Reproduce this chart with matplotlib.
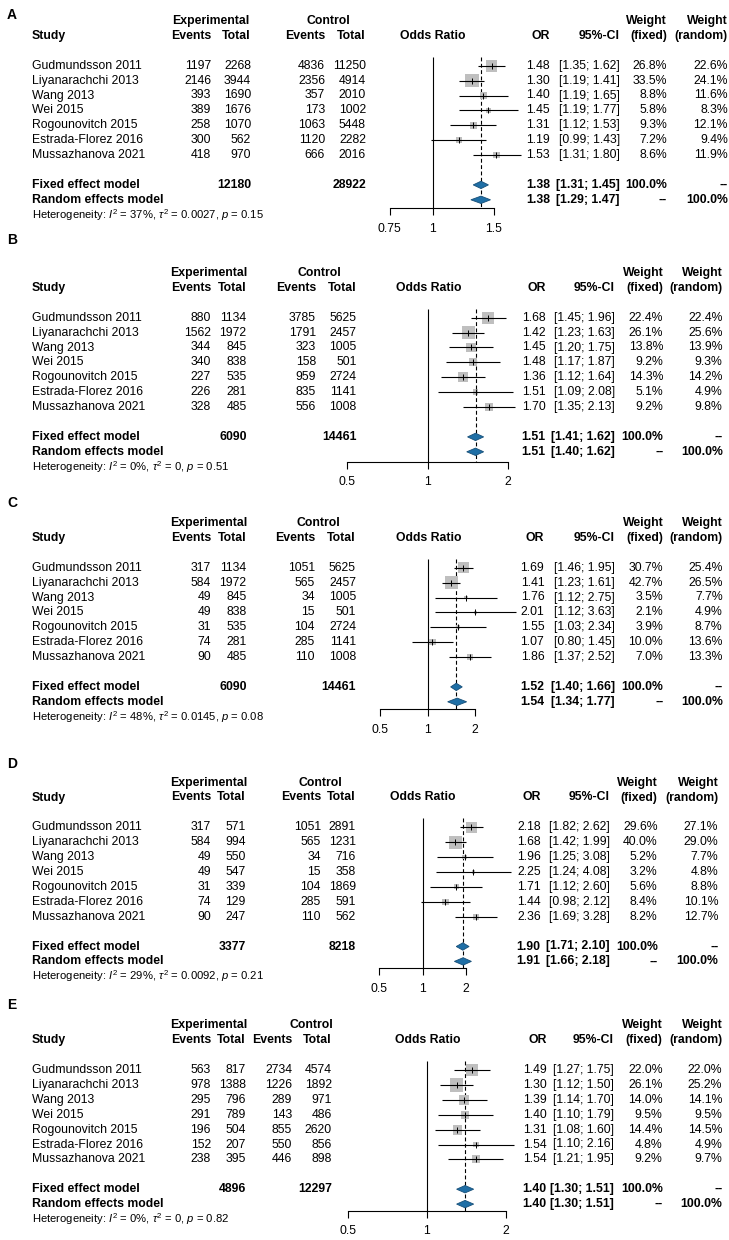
import numpy as np
import matplotlib
matplotlib.use("Agg")
import matplotlib.pyplot as plt
from matplotlib.ticker import NullLocator

plt.rcParams['font.family'] = ['Liberation Sans', 'DejaVu Sans']
plt.rcParams['mathtext.fontset'] = 'custom'
plt.rcParams['mathtext.rm'] = 'Liberation Sans'
plt.rcParams['mathtext.it'] = 'Liberation Sans:italic'
plt.rcParams['mathtext.bf'] = 'Liberation Sans:bold'

studies = ["Gudmundsson 2011", "Liyanarachchi 2013", "Wang 2013", "Wei 2015",
           "Rogounovitch 2015", "Estrada-Florez 2016", "Mussazhanova 2021"]

# Panel A
a_exp_events = [1197, 2146, 393, 389, 258, 300, 418]
a_exp_total = [2268, 3944, 1690, 1676, 1070, 562, 970]
a_ctl_events = [4836, 2356, 357, 173, 1063, 1120, 666]
a_ctl_total = [11250, 4914, 2010, 1002, 5448, 2282, 2016]
a_or = [1.48, 1.30, 1.40, 1.45, 1.31, 1.19, 1.53]
a_lo = [1.35, 1.19, 1.19, 1.19, 1.12, 0.99, 1.31]
a_hi = [1.62, 1.41, 1.65, 1.77, 1.53, 1.43, 1.80]
a_wf = [26.8, 33.5, 8.8, 5.8, 9.3, 7.2, 8.6]
a_wr = [22.6, 24.1, 11.6, 8.3, 12.1, 9.4, 11.9]
a_fixed = [1.38, 1.31, 1.45]
a_random = [1.38, 1.29, 1.47]
a_totals = [12180, 28922]
a_het = ["37%", "0.0027", "0.15"]
a_ticks = [0.75, 1, 1.5]

# Panel B
b_exp_events = [880, 1562, 344, 340, 227, 226, 328]
b_exp_total = [1134, 1972, 845, 838, 535, 281, 485]
b_ctl_events = [3785, 1791, 323, 158, 959, 835, 556]
b_ctl_total = [5625, 2457, 1005, 501, 2724, 1141, 1008]
b_or = [1.68, 1.42, 1.45, 1.48, 1.36, 1.51, 1.70]
b_lo = [1.45, 1.23, 1.20, 1.17, 1.12, 1.09, 1.35]
b_hi = [1.96, 1.63, 1.75, 1.87, 1.64, 2.08, 2.13]
b_wf = [22.4, 26.1, 13.8, 9.2, 14.3, 5.1, 9.2]
b_wr = [22.4, 25.6, 13.9, 9.3, 14.2, 4.9, 9.8]
b_fixed = [1.51, 1.41, 1.62]
b_random = [1.51, 1.40, 1.62]
b_totals = [6090, 14461]
b_het = ["0%", "0", "0.51"]
b_ticks = [0.5, 1, 2]

# Panel C
c_exp_events = [317, 584, 49, 49, 31, 74, 90]
c_exp_total = [1134, 1972, 845, 838, 535, 281, 485]
c_ctl_events = [1051, 565, 34, 15, 104, 285, 110]
c_ctl_total = [5625, 2457, 1005, 501, 2724, 1141, 1008]
c_or = [1.69, 1.41, 1.76, 2.01, 1.55, 1.07, 1.86]
c_lo = [1.46, 1.23, 1.12, 1.12, 1.03, 0.80, 1.37]
c_hi = [1.95, 1.61, 2.75, 3.63, 2.34, 1.45, 2.52]
c_wf = [30.7, 42.7, 3.5, 2.1, 3.9, 10.0, 7.0]
c_wr = [25.4, 26.5, 7.7, 4.9, 8.7, 13.6, 13.3]
c_fixed = [1.52, 1.40, 1.66]
c_random = [1.54, 1.34, 1.77]
c_totals = [6090, 14461]
c_het = ["48%", "0.0145", "0.08"]
c_ticks = [0.5, 1, 2]

# Panel D
d_exp_events = [317, 584, 49, 49, 31, 74, 90]
d_exp_total = [571, 994, 550, 547, 339, 129, 247]
d_ctl_events = [1051, 565, 34, 15, 104, 285, 110]
d_ctl_total = [2891, 1231, 716, 358, 1869, 591, 562]
d_or = [2.18, 1.68, 1.96, 2.25, 1.71, 1.44, 2.36]
d_lo = [1.82, 1.42, 1.25, 1.24, 1.12, 0.98, 1.69]
d_hi = [2.62, 1.99, 3.08, 4.08, 2.60, 2.12, 3.28]
d_wf = [29.6, 40.0, 5.2, 3.2, 5.6, 8.4, 8.2]
d_wr = [27.1, 29.0, 7.7, 4.8, 8.8, 10.1, 12.7]
d_fixed = [1.90, 1.71, 2.10]
d_random = [1.91, 1.66, 2.18]
d_totals = [3377, 8218]
d_het = ["29%", "0.0092", "0.21"]
d_ticks = [0.5, 1, 2]

# Panel E
e_exp_events = [563, 978, 295, 291, 196, 152, 238]
e_exp_total = [817, 1388, 796, 789, 504, 207, 395]
e_ctl_events = [2734, 1226, 289, 143, 855, 550, 446]
e_ctl_total = [4574, 1892, 971, 486, 2620, 856, 898]
e_or = [1.49, 1.30, 1.39, 1.40, 1.31, 1.54, 1.54]
e_lo = [1.27, 1.12, 1.14, 1.10, 1.08, 1.10, 1.21]
e_hi = [1.75, 1.50, 1.70, 1.79, 1.60, 2.16, 1.95]
e_wf = [22.0, 26.1, 14.0, 9.5, 14.4, 4.8, 9.2]
e_wr = [22.0, 25.2, 14.1, 9.5, 14.5, 4.9, 9.7]
e_fixed = [1.40, 1.30, 1.51]
e_random = [1.40, 1.30, 1.51]
e_totals = [4896, 12297]
e_het = ["0%", "0", "0.82"]
e_ticks = [0.5, 1, 2]

def pack(label, ee, et, ce, ct, orr, lo, hi, wf, wr, fx, rn, tot, het, ticks):
    return dict(label=label, ee=ee, et=et, ce=ce, ct=ct, orr=orr, lo=lo, hi=hi,
                wf=wf, wr=wr, fixed=fx, random=rn, totals=tot, het=het, ticks=ticks)

panels = [
    pack("A", a_exp_events, a_exp_total, a_ctl_events, a_ctl_total, a_or, a_lo, a_hi,
         a_wf, a_wr, a_fixed, a_random, a_totals, a_het, a_ticks),
    pack("B", b_exp_events, b_exp_total, b_ctl_events, b_ctl_total, b_or, b_lo, b_hi,
         b_wf, b_wr, b_fixed, b_random, b_totals, b_het, b_ticks),
    pack("C", c_exp_events, c_exp_total, c_ctl_events, c_ctl_total, c_or, c_lo, c_hi,
         c_wf, c_wr, c_fixed, c_random, c_totals, c_het, c_ticks),
    pack("D", d_exp_events, d_exp_total, d_ctl_events, d_ctl_total, d_or, d_lo, d_hi,
         d_wf, d_wr, d_fixed, d_random, d_totals, d_het, d_ticks),
    pack("E", e_exp_events, e_exp_total, e_ctl_events, e_ctl_total, e_or, e_lo, e_hi,
         e_wf, e_wr, e_fixed, e_random, e_totals, e_het, e_ticks),
]

# layout in pixels, one entry per panel
layouts = [
    dict(gud_y=65.7, label_y=15, cols=[211, 251, 325, 366], exp_c=211, ctl_c=328,
         rcols=[550, 620, 667, 728], or_c=432.5, x1=432.7, k=150, axis_row=9.57),
    dict(gud_y=317.7, label_y=240, cols=[211, 246.7, 316, 356.7], exp_c=208.5, ctl_c=319,
         rcols=[545.7, 615, 663.3, 722.7], or_c=428.3, x1=427.7, k=116, axis_row=9.66),
    dict(gud_y=567.7, label_y=503, cols=[211, 246.7, 315, 356], exp_c=208.5, ctl_c=318.5,
         rcols=[544.3, 615, 663.3, 722.7], or_c=428.3, x1=427.7, k=68.2, axis_row=9.48),
    dict(gud_y=827.3, label_y=764, cols=[211, 246, 321, 356], exp_c=208.5, ctl_c=320,
         rcols=[540.7, 610, 657.7, 718.3], or_c=422.7, x1=422.7, k=62.5, axis_row=9.46),
    dict(gud_y=1070, label_y=1005, cols=[211, 246, 292, 332], exp_c=208.5, ctl_c=311,
         rcols=[546.7, 614, 662.7, 722.3], or_c=428, x1=426.7, k=114, axis_row=9.44),
]

W, H = 729, 1240
ROW = 14.9
FS = 8.8
SQ_GRAY = '#BFBFBF'
DIA_BLUE = '#1F6FA6'

fig = plt.figure(figsize=(W / 100, H / 100), dpi=100)
bg = fig.add_axes([0, 0, 1, 1])
bg.set_xlim(0, W)
bg.set_ylim(H, 0)
bg.axis('off')


def draw_panel(p, lay):
    y0 = lay['gud_y']

    def t(x, r, s, ha='right', bold=False, fs=FS):
        bg.text(x, y0 + r * ROW, s, ha=ha, va='center', fontsize=fs,
                fontweight='bold' if bold else 'normal')

    bg.text(7, lay['label_y'], p['label'], fontsize=10, fontweight='bold', va='center')

    c = lay['cols']
    rc = lay['rcols']
    # headers
    t(32, -2, "Study", ha='left', bold=True)
    t(lay['exp_c'], -3, "Experimental", ha='center', bold=True)
    t(lay['ctl_c'], -3, "Control", ha='center', bold=True)
    for x, s in zip(c, ["Events", "Total", "Events", "Total"]):
        t(x, -2, s, bold=True)
    t(lay['or_c'], -2, "Odds Ratio", ha='center', bold=True)
    t(rc[0], -2, "OR", bold=True)
    t(rc[1], -2, "95%-CI", bold=True)
    t(rc[2], -3, "Weight", bold=True)
    t(rc[2], -2, "(fixed)", bold=True)
    t(rc[3], -3, "Weight", bold=True)
    t(rc[3], -2, "(random)", bold=True)

    # study rows
    for i, name in enumerate(studies):
        t(32, i, name, ha='left')
        t(c[0], i, str(p['ee'][i]))
        t(c[1], i, str(p['et'][i]))
        t(c[2], i, str(p['ce'][i]))
        t(c[3], i, str(p['ct'][i]))
        t(rc[0], i, f"{p['orr'][i]:.2f}")
        t(rc[1], i, f"[{p['lo'][i]:.2f}; {p['hi'][i]:.2f}]")
        t(rc[2], i, f"{p['wf'][i]:.1f}%")
        t(rc[3], i, f"{p['wr'][i]:.1f}%")

    # pooled rows
    t(32, 8, "Fixed effect model", ha='left', bold=True)
    t(c[1], 8, str(p['totals'][0]), bold=True)
    t(c[3], 8, str(p['totals'][1]), bold=True)
    fx, rn = p['fixed'], p['random']
    t(rc[0], 8, f"{fx[0]:.2f}", bold=True)
    t(rc[1], 8, f"[{fx[1]:.2f}; {fx[2]:.2f}]", bold=True)
    t(rc[2], 8, "100.0%", bold=True)
    t(rc[3], 8, "--", bold=True)
    t(32, 9, "Random effects model", ha='left', bold=True)
    t(rc[0], 9, f"{rn[0]:.2f}", bold=True)
    t(rc[1], 9, f"[{rn[1]:.2f}; {rn[2]:.2f}]", bold=True)
    t(rc[2], 9, "--", bold=True)
    t(rc[3], 9, "100.0%", bold=True)
    i2, tau2, pv = p['het']
    t(32, 10, r"Heterogeneity: $I^2$ = " + i2 + r", $\tau^2$ = " + tau2
      + r", $p$ = " + pv, ha='left', fs=8.1)

    # forest area
    L, R = 300, 562
    top, bot = y0 - 1 * ROW, y0 + 12.5 * ROW
    ax = fig.add_axes([L / W, 1 - bot / H, (R - L) / W, (bot - top) / H])
    ax.set_xscale('log')
    ax.set_xlim(np.exp((L - lay['x1']) / lay['k']), np.exp((R - lay['x1']) / lay['k']))
    ax.set_ylim(12.5, -1)
    ax.patch.set_visible(False)
    for s in ['top', 'right', 'left']:
        ax.spines[s].set_visible(False)
    ticks = p['ticks']
    ax.spines['bottom'].set_position(('data', lay['axis_row']))
    ax.spines['bottom'].set_bounds(ticks[0], ticks[-1])
    ax.spines['bottom'].set_linewidth(0.8)
    ax.set_yticks([])
    ax.set_xticks(ticks, labels=[f"{v:g}" for v in ticks])
    ax.xaxis.set_minor_locator(NullLocator())
    ax.tick_params(axis='x', length=5, width=0.8, pad=5.5, labelsize=FS)

    ar = lay['axis_row']
    ax.vlines(1, -0.6, ar, color='black', lw=0.8, zorder=1)
    ax.vlines(fx[0], -0.6, ar, color='black', lw=0.8, linestyles=(0, (3.5, 2.2)), zorder=1)

    rows = np.arange(len(studies))
    wf = np.array(p['wf'])
    side = 13.2 * np.sqrt(wf / wf.max()) * 0.72
    ax.scatter(p['orr'], rows, s=side ** 2, marker='s', color=SQ_GRAY, linewidths=0, zorder=2)
    ax.hlines(rows, p['lo'], p['hi'], color='black', lw=0.8, zorder=3)
    ax.scatter(p['orr'], rows, s=14, marker='|', color='black', linewidths=0.7, zorder=4)

    h = 3.7 / ROW
    for r, (est, lo, hi) in [(8, fx), (9, rn)]:
        ax.fill([lo, est, hi, est], [r, r - h, r, r + h], facecolor=DIA_BLUE,
                edgecolor='#174f78', lw=0.6, zorder=4)


for p, lay in zip(panels, layouts):
    draw_panel(p, lay)

fig.savefig("out.png", dpi=100)
